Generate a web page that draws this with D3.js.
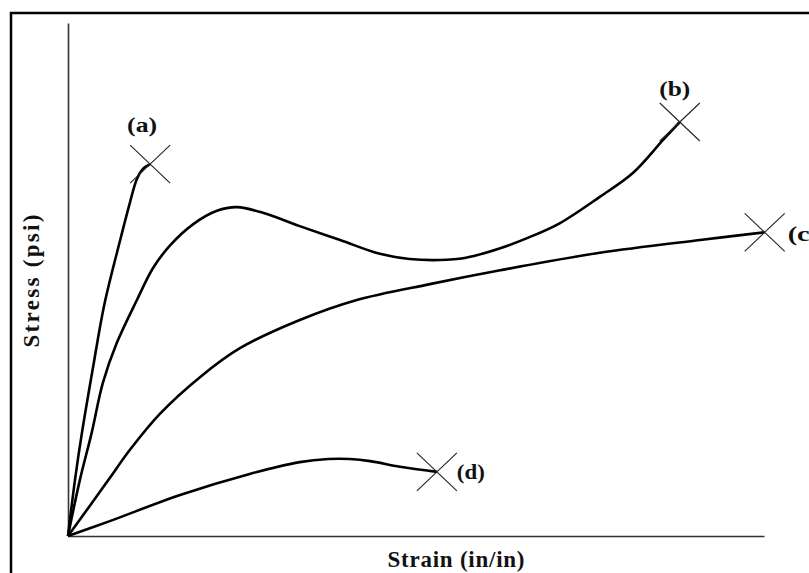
<!DOCTYPE html>
<html><head><meta charset="utf-8">
<script src="https://cdn.jsdelivr.net/npm/d3@7"></script>
<style>body{margin:0;background:#fff}svg{display:block}text{font-family:"Liberation Serif","Times New Roman",Times,serif;font-weight:bold}</style>
</head><body>
<svg id="c" width="809" height="573"></svg>
<script>
// Stress-strain curves (normalised strain / stress units)
const strainA = [0, 0.010, 0.020, 0.036, 0.052, 0.075, 0.089, 0.099, 0.108, 0.118];
const stressA = [0, 0.109, 0.201, 0.329, 0.450, 0.577, 0.650, 0.696, 0.716, 0.725];
const strainB = [0, 0.017, 0.034, 0.050, 0.070, 0.099, 0.122, 0.147, 0.180, 0.214, 0.243, 0.280, 0.333, 0.391, 0.448, 0.491, 0.534, 0.570, 0.621, 0.664, 0.707, 0.764, 0.812, 0.855, 0.879];
const stressB = [0, 0.109, 0.201, 0.298, 0.376, 0.460, 0.522, 0.567, 0.608, 0.634, 0.641, 0.630, 0.604, 0.577, 0.550, 0.540, 0.538, 0.542, 0.561, 0.583, 0.610, 0.661, 0.708, 0.772, 0.807];
const strainC = [0, 0.032, 0.060, 0.089, 0.132, 0.190, 0.247, 0.333, 0.415, 0.520, 0.621, 0.764, 0.908, 1.001];
const stressC = [0, 0.060, 0.113, 0.168, 0.238, 0.310, 0.366, 0.421, 0.460, 0.491, 0.518, 0.552, 0.577, 0.592];
const strainD = [0, 0.060, 0.161, 0.261, 0.333, 0.374, 0.405, 0.434, 0.477, 0.530];
const stressD = [0, 0.029, 0.080, 0.121, 0.144, 0.150, 0.150, 0.146, 0.135, 0.125];
const curveNames = ["(a)", "(b)", "(c", "(d)"];
const xTitle = "Strain (in/in)";
const yTitle = "Stress (psi)";

const svg = d3.select("#c");
const x = d3.scaleLinear().domain([0, 1]).range([68, 764]);
const y = d3.scaleLinear().domain([0, 1]).range([536, 23]);

// outer frame (extends beyond the picture at right/bottom)
svg.append("rect").attr("x", 11).attr("y", 13).attr("width", 830).attr("height", 600)
  .attr("fill", "none").attr("stroke", "#000").attr("stroke-width", 2.5);

// axes (plain lines, no ticks)
const xAxis = d3.axisBottom(x).tickValues([]).tickSizeOuter(0);
const yAxis = d3.axisLeft(y).tickValues([]).tickSizeOuter(0);
svg.append("g").attr("transform", `translate(0,${y(0)})`).call(xAxis)
  .select(".domain").attr("stroke", "#333").attr("stroke-width", 1.6);
svg.append("g").attr("transform", `translate(${x(0)},0)`).call(yAxis)
  .select(".domain").attr("stroke", "#333").attr("stroke-width", 1.6);

const series = [
  {name: curveNames[0], xs: strainA, ys: stressA},
  {name: curveNames[1], xs: strainB, ys: stressB},
  {name: curveNames[2], xs: strainC, ys: stressC},
  {name: curveNames[3], xs: strainD, ys: stressD}
];
const line = d3.line().x(d => x(d[0])).y(d => y(d[1])).curve(d3.curveCatmullRom.alpha(0.5));

series.forEach(s => {
  const pts = s.xs.map((v, i) => [v, s.ys[i]]);
  svg.append("path").attr("d", line(pts)).attr("fill", "none")
    .attr("stroke", "#000").attr("stroke-width", 2.6).attr("stroke-linejoin", "round");
  const end = pts[pts.length - 1];
  const cx = x(end[0]), cy = y(end[1]);
  svg.append("line").attr("x1", cx - 20).attr("y1", cy - 19).attr("x2", cx + 20).attr("y2", cy + 19)
    .attr("stroke", "#222").attr("stroke-width", 1.1);
  svg.append("line").attr("x1", cx + 20).attr("y1", cy - 19).attr("x2", cx - 20).attr("y2", cy + 19)
    .attr("stroke", "#222").attr("stroke-width", 1.1);
});

// curve labels
const lab = (txt, px, py, anchor, len) => {
  const t = svg.append("text").attr("x", px).attr("y", py).attr("text-anchor", anchor)
    .attr("font-size", 21).attr("fill", "#111").text(txt);
  if (len) t.attr("textLength", len).attr("lengthAdjust", "spacingAndGlyphs");
};
const endPx = s => [x(s.xs[s.xs.length - 1]), y(s.ys[s.ys.length - 1])];
let p = endPx(series[0]); lab(curveNames[0], p[0] - 8, p[1] - 32, "middle", 30);
p = endPx(series[1]); lab(curveNames[1], p[0] - 5, p[1] - 26, "middle", 31);
p = endPx(series[2]); lab(curveNames[2], p[0] + 23, p[1] + 9, "start", 22);
p = endPx(series[3]); lab(curveNames[3], p[0] + 20, p[1] + 7, "start", 28);

// axis titles
svg.append("text").attr("x", 456).attr("y", 567).attr("text-anchor", "middle")
  .attr("font-size", 23).attr("fill", "#111").attr("textLength", 137).attr("lengthAdjust", "spacing")
  .text(xTitle);
svg.append("text").attr("transform", "translate(39,281) rotate(-90)").attr("text-anchor", "middle")
  .attr("font-size", 23).attr("fill", "#111").attr("textLength", 133).attr("lengthAdjust", "spacing")
  .text(yTitle);
</script>
</body></html>
